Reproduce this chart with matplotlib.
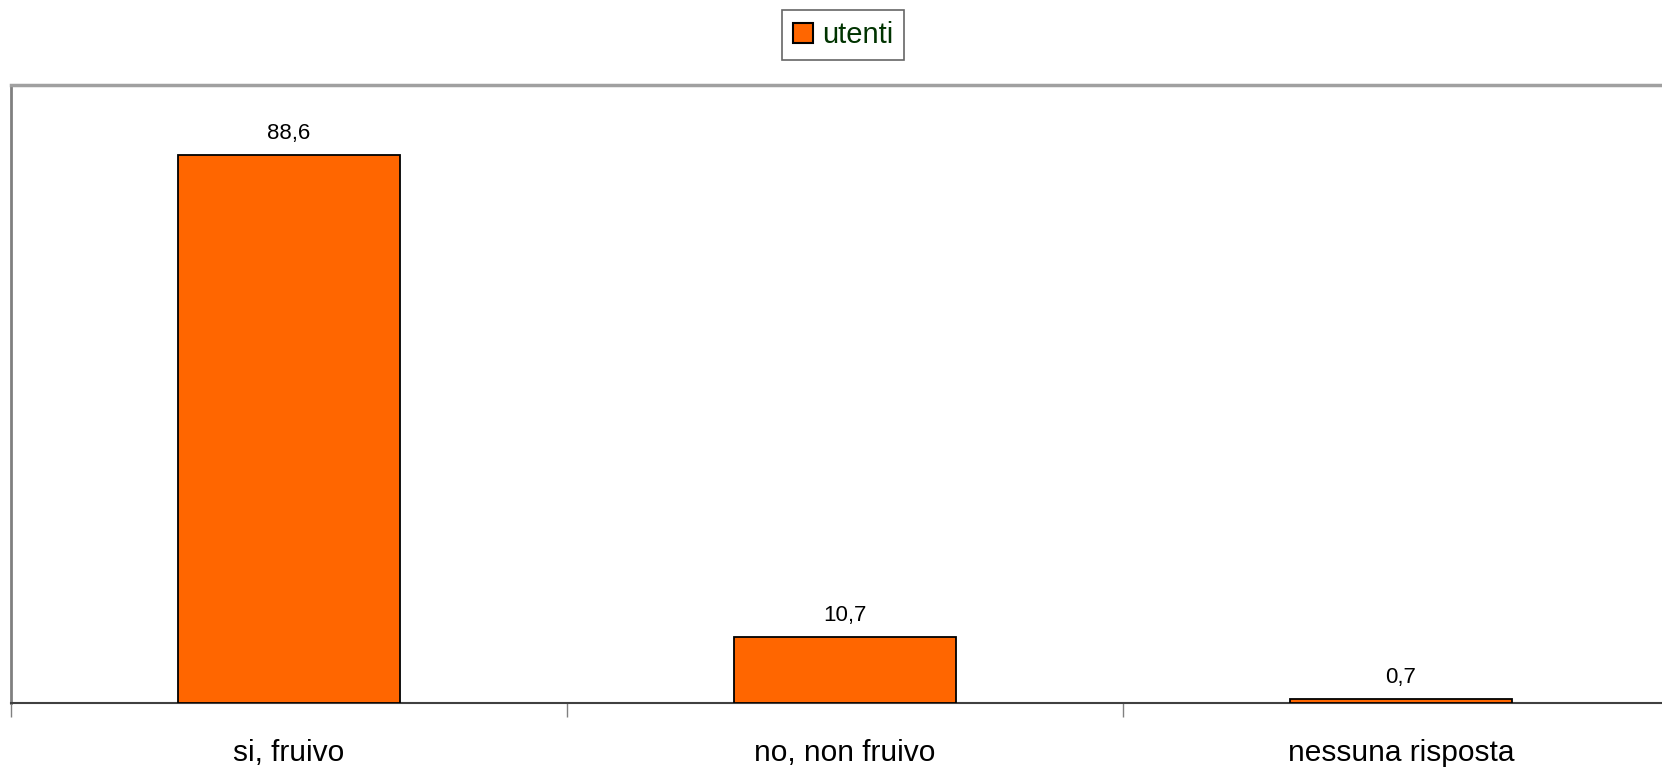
import matplotlib
matplotlib.use("Agg")
import matplotlib.pyplot as plt
from matplotlib.patches import Patch

categories = ["si, fruivo", "no, non fruivo", "nessuna risposta"]
values = [88.6, 10.7, 0.7]
value_labels = ["88,6", "10,7", "0,7"]
series_name = "utenti"

plt.rcParams['font.family'] = ['Liberation Sans', 'DejaVu Sans']

fig = plt.figure(figsize=(16.62, 7.67), dpi=100)
ax = fig.add_axes([11/1662, 1 - 703/767, (1679 - 11)/1662, (703 - 85)/767])

x = list(range(len(categories)))
ax.bar(x, values, width=0.4, color="#FF6600", edgecolor="black", linewidth=1.3, zorder=3)
for xi, v, lab in zip(x, values, value_labels):
    ax.annotate(lab, (xi, v), xytext=(0, 11), textcoords="offset pixels",
                ha="center", va="bottom", fontsize=16, color="black")

ax.set_xlim(-0.5, 2.5)
ax.set_ylim(0, 100)
ax.set_yticks([])
ax.set_xticks(x)
ax.set_xticklabels(categories, fontsize=21.5)
ax.tick_params(axis="x", which="major", length=0, pad=26)
ax.set_xticks([-0.5, 0.5, 1.5, 2.5], minor=True)
ax.tick_params(axis="x", which="minor", length=10, width=1, color="#808080", direction="out")

ax.spines["left"].set_color("#808080")
ax.spines["left"].set_linewidth(2)
ax.spines["top"].set_color("#a0a0a0")
ax.spines["top"].set_linewidth(2.5)
ax.spines["right"].set_visible(False)
ax.spines["bottom"].set_color("#404040")
ax.spines["bottom"].set_linewidth(1.5)

handle = Patch(facecolor="#FF6600", edgecolor="black", linewidth=1.5)
leg = fig.legend([handle], [series_name], loc="center", bbox_to_anchor=(843/1662, 1 - 35/767),
                 fontsize=21, frameon=True, fancybox=False, edgecolor="#404040",
                 handlelength=0.7, handleheight=0.7, handletextpad=0.3, borderpad=0.38)
leg.get_frame().set_linewidth(1.2)
for t in leg.get_texts():
    t.set_color("#003300")

fig.savefig("out.png", dpi=100)
